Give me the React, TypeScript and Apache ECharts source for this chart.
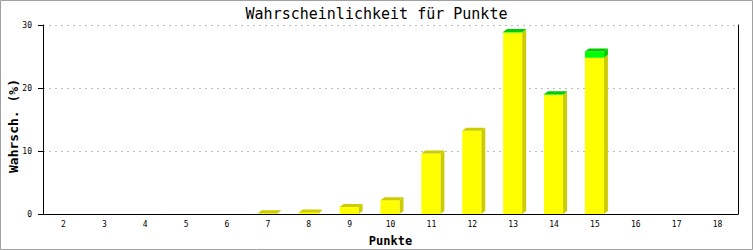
import React, { useEffect, useRef } from "react";
import * as echarts from "echarts";

const categories = ["2", "3", "4", "5", "6", "7", "8", "9", "10", "11", "12", "13", "14", "15", "16", "17", "18"];
const yellowValues = [0, 0, 0, 0, 0, 0.1, 0.25, 1.1, 2.2, 9.6, 13.2, 28.8, 18.9, 24.8, 0, 0, 0];
const greenValues = [0, 0, 0, 0, 0, 0, 0, 0, 0, 0, 0, 0.1, 0.1, 1.0, 0, 0, 0];
const yMin = 0;
const yMax = 30;
const yStep = 10;

const titleText = "Wahrscheinlichkeit für Punkte";
const xName = "Punkte";
const yName = "Wahrsch. (%)";

const FONT = "DejaVu Sans Mono";

function makeRender(front: string, shade: string) {
  return (params: any, api: any) => {
    const idx = api.value(0);
    const base = api.value(1);
    const top = api.value(2);
    const drawTop = api.value(3);
    const pTop = api.coord([idx, top]);
    const pBase = api.coord([idx, base]);
    const cx = pTop[0];
    const L = cx - 10;
    const R = cx + 9;
    const T = pTop[1];
    const B = pBase[1];
    const dx = 4;
    const dy = 3;
    const children: any[] = [
      {
        type: "polygon",
        shape: { points: [[R, T], [R + dx, T - dy], [R + dx, B - dy], [R, B]] },
        style: { fill: shade },
      },
      {
        type: "rect",
        shape: { x: L, y: T, width: R - L, height: Math.max(0, B - T) },
        style: { fill: front },
      },
    ];
    if (drawTop) {
      children.push({
        type: "polygon",
        shape: { points: [[L, T], [L + dx, T - dy], [R + dx, T - dy], [R, T]] },
        style: { fill: shade },
      });
    }
    return { type: "group", children };
  };
}

export default function App() {
  const ref = useRef<HTMLDivElement>(null);
  useEffect(() => {
    document.body.style.margin = "0";
    if (!ref.current) return;
    const chart = echarts.init(ref.current, null, { renderer: "svg" });

    const yellowData: any[] = [];
    const greenData: any[] = [];
    categories.forEach((_, i) => {
      const y = yellowValues[i];
      const g = greenValues[i];
      if (y > 0) yellowData.push([i, 0, y, g > 0 ? 0 : 1]);
      if (g > 0) greenData.push([i, y, y + g, 1]);
    });

    chart.setOption({
      animation: false,
      backgroundColor: "#ffffff",
      title: {
        text: titleText,
        left: "center",
        top: 1,
        textStyle: { fontFamily: FONT, fontWeight: "normal", fontSize: 15, color: "#000", lineHeight: 16 },
      },
      grid: { left: 43, right: 15, top: 25, bottom: 36, containLabel: false, outerBoundsMode: "none" },
      xAxis: {
        type: "category",
        data: categories,
        name: xName,
        nameLocation: "middle",
        nameGap: 21,
        nameTextStyle: { fontFamily: FONT, fontWeight: "bold", fontSize: 12, color: "#000" },
        axisLine: { lineStyle: { color: "#000", width: 1 } },
        axisTick: { show: false },
        axisLabel: { fontFamily: FONT, fontSize: 8, color: "#000", margin: 6, interval: 0 },
      },
      yAxis: [
        {
          type: "value",
          min: yMin,
          max: yMax,
          interval: yStep,
          axisLine: { show: true, lineStyle: { color: "#000", width: 1 } },
          axisTick: { show: true, length: 5, lineStyle: { color: "#000" } },
          axisLabel: { fontFamily: FONT, fontSize: 8, color: "#000", margin: 11 },
          splitLine: { show: true, lineStyle: { color: "#bbbbbb", type: [2, 4], width: 1 } },
        },
        {
          type: "value",
          position: "right",
          min: yMin,
          max: yMax,
          interval: yStep,
          axisLine: { show: true, lineStyle: { color: "#000", width: 1 } },
          axisTick: { show: false },
          axisLabel: { show: false },
          splitLine: { show: false },
        },
      ],
      graphic: [
        {
          type: "rect",
          shape: { x: 0.5, y: 0.5, width: 752, height: 249 },
          style: { fill: "none", stroke: "#a0a0a0", lineWidth: 1 },
          silent: true,
        },
        {
          type: "text",
          x: 13,
          y: 126,
          rotation: Math.PI / 2,
          style: {
            text: yName,
            fontFamily: FONT,
            fontWeight: "bold",
            fontSize: 13,
            fill: "#000",
            align: "center",
            verticalAlign: "middle",
          },
          silent: true,
        },
      ],
      series: [
        {
          type: "custom",
          name: "base",
          coordinateSystem: "cartesian2d",
          renderItem: makeRender("#ffff00", "#cccc00"),
          encode: { x: 0, y: [1, 2] },
          data: yellowData,
        },
        {
          type: "custom",
          name: "top",
          coordinateSystem: "cartesian2d",
          renderItem: makeRender("#00ff00", "#00cc00"),
          encode: { x: 0, y: [1, 2] },
          data: greenData,
        },
      ],
    });
    return () => chart.dispose();
  }, []);
  return <div ref={ref} style={{ width: 753, height: 250 }} />;
}
